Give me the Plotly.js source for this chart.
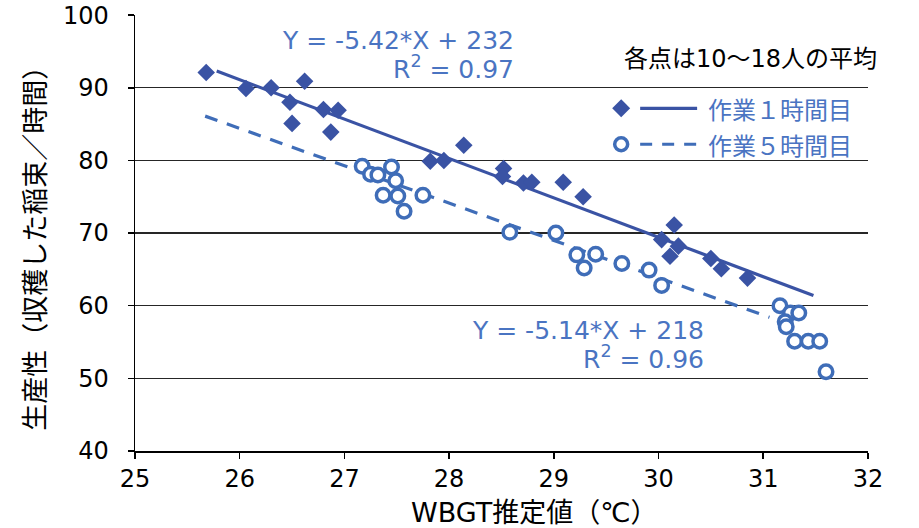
<!DOCTYPE html>
<html>
<head>
<meta charset="utf-8">
<script src="https://cdn.plot.ly/plotly-3.0.1.min.js"></script>
<style>html,body{margin:0;padding:0;background:#fff;}#chart{width:919px;height:528px;}</style>
</head>
<body>
<div id="chart"></div>
<script>
// ---- data ----
const hour1X = [25.68, 26.06, 26.30, 26.62, 26.48, 26.50, 26.80, 26.94, 26.87,
                27.82, 27.95, 28.14, 28.52, 28.51, 28.71, 28.79, 29.09, 29.28,
                30.03, 30.15, 30.11, 30.19, 30.50, 30.60, 30.85];
const hour1Y = [92.1, 89.9, 90.0, 90.9, 88.0, 85.1, 87.0, 86.9, 83.9,
                79.9, 80.0, 82.1, 78.9, 77.8, 76.9, 77.0, 77.0, 75.0,
                69.1, 71.1, 66.8, 68.2, 66.5, 65.1, 63.8];
const hour5X = [27.17, 27.25, 27.32, 27.45, 27.49, 27.37, 27.51, 27.57, 27.75, 28.58,
                29.02, 29.22, 29.29, 29.40, 29.65, 29.91, 30.03,
                31.16, 31.26, 31.34, 31.21, 31.22, 31.30, 31.43, 31.54, 31.60];
const hour5Y = [79.2, 78.1, 78.0, 79.1, 77.2, 75.2, 75.1, 73.0, 75.2, 70.1,
                70.0, 67.0, 65.2, 67.1, 65.8, 64.9, 62.8,
                60.0, 59.0, 59.0, 57.8, 57.1, 55.1, 55.1, 55.1, 50.9];
const fit1X = [25.78, 31.48];
const fit1Y = [92.3, 61.4];
const fit5X = [25.67, 31.06];
const fit5Y = [86.1, 58.4];
const xTicks = [25, 26, 27, 28, 29, 30, 31, 32];
const yTicks = [40, 50, 60, 70, 80, 90, 100];
const seriesNames = ['作業１時間目', '作業５時間目'];
const eq1 = ['Y = -5.42*X + 232', 'R<sup>2</sup> = 0.97'];
const eq5 = ['Y = -5.14*X + 218', 'R<sup>2</sup> = 0.96'];
const noteText = '各点は10～18人の平均';
const xTitle = 'WBGT推定値（℃）';
const yTitle = '生産性（収穫した稲束／時間）';

// ---- styling / geometry ----
const C1 = '#3a53a4', C2 = '#3f6db8', CT = '#4a74c2';
const W = 919, H = 528;
const L = 134.5, R = 868, T = 14.5, B = 451.3;
const px = x => (x - L) / (R - L);
const py = y => (B - y) / (B - T);
const JP = '"Noto Sans CJK JP", "Noto Sans", sans-serif';
const MIX = '"DejaVu Sans", "Noto Sans CJK JP", sans-serif';

const traces = [
  {x: fit5X, y: fit5Y, mode: 'lines', line: {color: C2, width: 3.2, dash: '13px,10px'}, hoverinfo: 'skip', showlegend: false},
  {x: fit1X, y: fit1Y, mode: 'lines', line: {color: C1, width: 3.2}, hoverinfo: 'skip', showlegend: false},
  {x: hour1X, y: hour1Y, mode: 'markers', name: seriesNames[0],
   marker: {symbol: 'diamond', size: 13.5, color: C1, line: {width: 0}}, showlegend: false},
  {x: hour5X, y: hour5Y, mode: 'markers', name: seriesNames[1],
   marker: {symbol: 'circle', size: 13.5, color: '#ffffff', line: {width: 3.5, color: C2}}, showlegend: false}
];

function ann(text, x, y, opts) {
  return Object.assign({text: text, xref: 'paper', yref: 'paper', x: px(x), y: py(y),
    showarrow: false, font: {family: MIX, size: 22, color: '#000'}}, opts || {});
}
const eqFont = {family: MIX, size: 25, color: CT};

const annotations = [
  ann(eq1[0], 516, 40, {xanchor: 'right', yanchor: 'middle', font: eqFont}),
  ann(eq1[1], 516, 67, {xanchor: 'right', yanchor: 'middle', font: eqFont}),
  ann(eq5[0], 706, 331, {xanchor: 'right', yanchor: 'middle', font: eqFont}),
  ann(eq5[1], 706, 358, {xanchor: 'right', yanchor: 'middle', font: eqFont}),
  ann(noteText, 879, 59, {xanchor: 'right', yanchor: 'middle', font: {family: MIX, size: 24, color: '#000'}}),
  ann(seriesNames[0], 706, 108, {xanchor: 'left', yanchor: 'middle', font: {family: JP, size: 24, color: CT}}),
  ann(seriesNames[1], 706, 144, {xanchor: 'left', yanchor: 'middle', font: {family: JP, size: 24, color: CT}}),
  ann(xTitle, 534, 513, {xanchor: 'center', yanchor: 'middle', font: {family: MIX, size: 27, color: '#000'}}),
  ann(yTitle, 33, 242, {xanchor: 'center', yanchor: 'middle', textangle: -90, font: {family: JP, size: 27, color: '#000'}})
];

const shapes = [
  // legend diamond
  {type: 'path', xref: 'paper', yref: 'paper',
   path: 'M ' + px(621) + ' ' + py(99) + ' L ' + px(630) + ' ' + py(108) + ' L ' + px(621) + ' ' + py(117) + ' L ' + px(612) + ' ' + py(108) + ' Z',
   fillcolor: C1, line: {width: 0}},
  {type: 'line', xref: 'paper', yref: 'paper', x0: px(640), x1: px(697), y0: py(108), y1: py(108), line: {color: C1, width: 3.2}},
  // legend circle
  {type: 'circle', xref: 'paper', yref: 'paper', x0: px(614.5), x1: px(627.5), y0: py(137.5), y1: py(150.5),
   fillcolor: '#fff', line: {color: C2, width: 3.5}},
  {type: 'line', xref: 'paper', yref: 'paper', x0: px(640), x1: px(698), y0: py(144), y1: py(144), line: {color: C2, width: 3.2, dash: '12px,10px'}}
];

const layout = {
  width: W, height: H,
  margin: {l: L, r: W - R, t: T, b: H - B, pad: 0},
  paper_bgcolor: '#fff', plot_bgcolor: '#fff',
  font: {family: MIX, size: 22, color: '#000'},
  showlegend: false,
  xaxis: {range: [25, 32.001], tickvals: xTicks, ticktext: xTicks.map(String),
          showgrid: false, zeroline: false, showline: true, linecolor: '#000', linewidth: 1.5,
          ticks: 'outside', ticklen: 6, tickwidth: 1.5, tickcolor: '#000',
          tickfont: {family: MIX, size: 24, color: '#000'}, ticklabelstandoff: 0},
  yaxis: {range: [40, 100.02], tickvals: yTicks, ticktext: yTicks.map(String),
          showgrid: true, gridcolor: '#262626', gridwidth: 1.2, zeroline: false,
          showline: true, linecolor: '#000', linewidth: 1.5,
          ticks: 'outside', ticklen: 6, tickwidth: 1.5, tickcolor: '#000',
          tickfont: {family: MIX, size: 24, color: '#000'}, ticklabelstandoff: 14},
  annotations: annotations,
  shapes: shapes
};

Plotly.newPlot('chart', traces, layout, {staticPlot: true, displayModeBar: false});
</script>
</body>
</html>
